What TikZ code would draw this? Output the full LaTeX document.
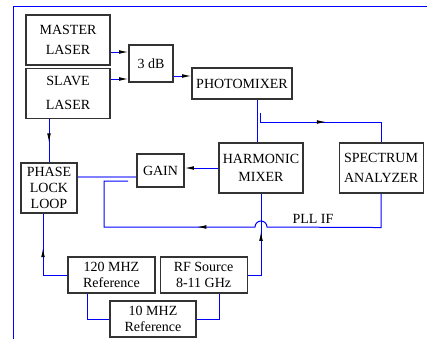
\documentclass[tikz,border=0pt]{standalone}
\usepackage{fontspec}
\setmainfont{Liberation Serif}
\usetikzlibrary{arrows.meta, positioning, decorations.markings}

\begin{document}
\begin{tikzpicture}[
  x=0.75pt, y=-0.75pt,
  pointer/.tip={Latex[color=black, length=7pt, width=2.8pt]},
  >=pointer,
  font=\fontsize{10.5}{12}\selectfont,
  blk/.style={rectangle, draw=black!80, line width=0.8pt, align=center, inner sep=1pt},
  wire/.style={draw=blue, line width=0.75pt},
  fatwire/.style={draw=blue!50, line width=1.6pt},
  midarrow/.style={postaction={decorate}, decoration={markings, mark=at position #1 with {\arrow{pointer}}}}
]
\useasboundingbox (0,0) rectangle (427,339);
% -------------------------------------------------------------------------
% FRAME
% -------------------------------------------------------------------------
\draw[wire] (427,6) -- (13,6) -- (13,339);
% -------------------------------------------------------------------------
% OPTICAL PART
% -------------------------------------------------------------------------
\node[blk, minimum width=63pt, minimum height=37.5pt] (master) at (68,40) {MASTER\\[3pt]LASER};
\node[blk, minimum width=63pt, minimum height=37.5pt, below=1.5pt of master] (slave) {SLAVE\\[6pt]LASER};
\node[blk, minimum width=33pt, minimum height=27.75pt] (tdb) at (151,63.5) {3 dB};
\node[blk, minimum width=75pt, minimum height=23.25pt] (photo) at (242,83.5) {PHOTOMIXER};
% -------------------------------------------------------------------------
% RF / PLL PART
% -------------------------------------------------------------------------
\node[blk, minimum width=63pt, minimum height=37.5pt] (harm) at (261,168) {HARMONIC\\[1pt]MIXER};
\node[blk, minimum width=63pt, minimum height=37.5pt, right=26.25pt of harm] (spec) {SPECTRUM\\[3pt]ANALYZER};
\node[blk, minimum width=35.25pt, minimum height=24.75pt] (gain) at (160.5,170.5) {GAIN};
\node[blk, minimum width=42pt, minimum height=37.5pt] (pll) at (49,188) {PHASE\\LOCK\\LOOP};
\node[blk, minimum width=65.25pt, minimum height=27pt] (ref120) at (111.5,275) {120 MHZ\\Reference};
\node[blk, minimum width=65.25pt, minimum height=27pt, right=3pt of ref120] (rfsrc) {RF Source\\8-11 GHz};
\node[blk, minimum width=64.5pt, minimum height=27pt] (ref10) at (153,319) {10 MHZ\\Reference};
\node (pllif) at (313,219) {PLL IF};
% -------------------------------------------------------------------------
% CONNECTIONS
% -------------------------------------------------------------------------
\draw[wire, ->] (master.east |- 0,52) -- (tdb.west |- 0,52);
\draw[wire, ->] (slave.east |- 0,79) -- (tdb.west |- 0,79);
\draw[wire, ->] (tdb.east |- 0,76) -- (photo.west |- 0,76);
\draw[wire, midarrow=0.55] (slave.south -| pll.north) -- (pll.north);
\draw[wire] (photo.south -| 257,0) -- (harm.north -| 257,0);
\coordinate (tap) at (260,113);
\draw[wire, midarrow=0.5] (tap) -- ++(0,9) -| (spec.north);
\draw[wire, ->] (harm.west) -- (harm.west -| gain.east);
\draw[fatwire] (pll.east |- 0,177) -- (gain.west |- 0,177);
\coordinate (ifend) at (128,181);
\draw[wire, midarrow=0.58] (spec.south) -- ++(0,34) -- (267,227)
  arc[start angle=0, end angle=180, radius=4.5pt] -- (104,227) |- (ifend);
\draw[wire, midarrow=0.6] (rfsrc.east) -| (harm.south);
\draw[wire, midarrow=0.6] (ref120.west) -| (pll.south -| 43,0);
\draw[wire] (ref120.south -| 87,0) |- (ref10.west);
\draw[wire] (ref10.east) -| (rfsrc.south -| 219,0);
\end{tikzpicture}
\end{document}
